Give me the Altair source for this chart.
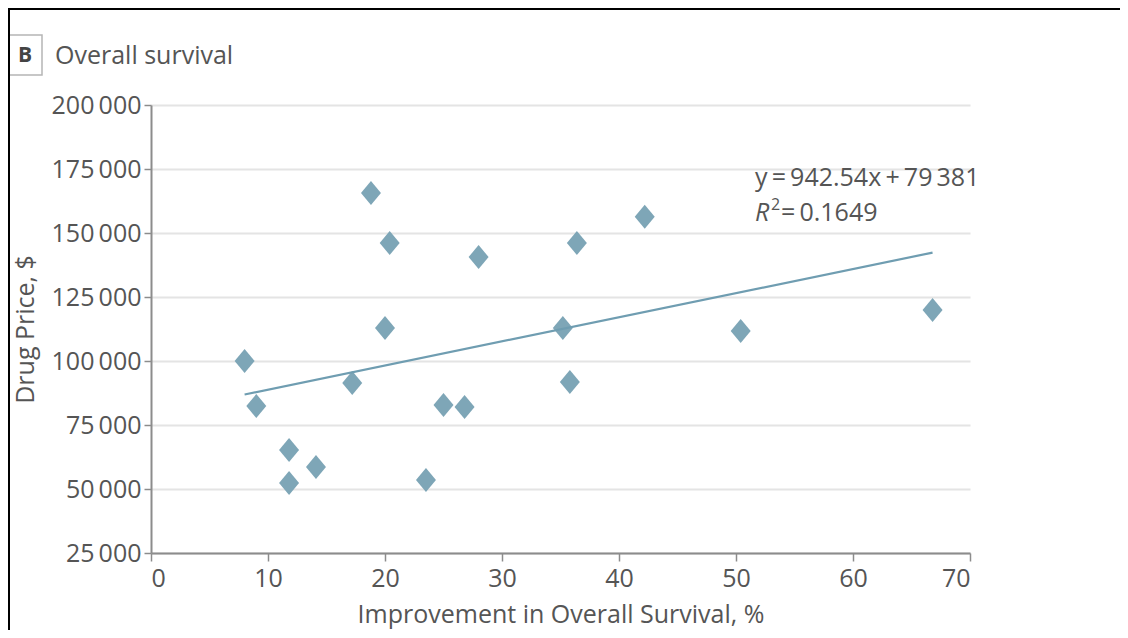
import altair as alt
import pandas as pd

# ---- data ----
IMPROVEMENT_OS = [8.0, 9.0, 11.8, 11.8, 14.1, 17.2, 18.8, 20.4, 20.0, 23.5,
                  25.0, 26.8, 28.0, 35.2, 35.8, 36.4, 42.2, 50.4, 66.8]
DRUG_PRICE = [100000, 82400, 65200, 52300, 58600, 91400, 165600, 146100, 112900, 53500,
              82800, 82000, 140600, 112900, 91800, 146100, 156300, 111700, 119900]
SLOPE = 942.54
INTERCEPT = 79381
EQUATION = "y\u2009=\u2009942.54x\u2009+\u200979\u2009381"
R2_TEXT = "\u2009=\u20090.1649"
PANEL_LETTER = "B"
PANEL_TITLE = "Overall survival"
X_TITLE = "Improvement in Overall Survival, %"
Y_TITLE = "Drug Price, $"
X_TICKS = [0, 10, 20, 30, 40, 50, 60, 70]
Y_TICKS = [25000, 50000, 75000, 100000, 125000, 150000, 175000, 200000]

FONT = "Open Sans"
FS = 25
TXT = "#555555"
MARK = "#7ea6b7"
LINE = "#6f9db1"

pts = pd.DataFrame({"x": IMPROVEMENT_OS, "y": DRUG_PRICE})
fit = pd.DataFrame({"x": [min(IMPROVEMENT_OS), max(IMPROVEMENT_OS)]})
one = pd.DataFrame({"a": [0]})

xscale = alt.Scale(domain=[0, 70], nice=False, zero=False)
yscale = alt.Scale(domain=[25000, 200000], nice=False, zero=False)

diamond = "M0,-1.2L1,0L0,1.2L-1,0Z"

points = alt.Chart(pts).mark_point(
    shape=diamond, filled=True, size=400, color=MARK, opacity=1
).encode(
    x=alt.X("x:Q", scale=xscale, axis=alt.Axis(
        values=X_TICKS, title=X_TITLE, grid=False, domainColor="#8c8c8c",
        domainWidth=2, tickColor="#8c8c8c", tickWidth=1.5, tickSize=8,
        labelFontSize=FS, labelColor=TXT, labelFont=FONT, labelPadding=5,
        titleFontSize=FS, titleColor=TXT, titleFont=FONT, titleFontWeight="normal",
        titlePadding=11)),
    y=alt.Y("y:Q", scale=yscale, axis=alt.Axis(
        values=Y_TICKS, title=Y_TITLE, grid=True, gridColor="#e4e4e4", gridWidth=2,
        domainColor="#8c8c8c", domainWidth=2, tickColor="#8c8c8c", tickWidth=1.5,
        tickSize=7, labelFontSize=FS, labelColor=TXT, labelFont=FONT, labelPadding=3,
        labelExpr="replace(format(datum.value, ','), ',', '\u2009')",
        titleFontSize=FS, titleColor=TXT, titleFont=FONT, titleFontWeight="normal",
        titleX=-113, titleY=224)),
)

line = alt.Chart(fit).transform_calculate(
    yfit=f"{SLOPE} * datum.x + {INTERCEPT}"
).mark_line(color=LINE, strokeWidth=2.2).encode(
    x=alt.X("x:Q", scale=xscale), y=alt.Y("yfit:Q", scale=yscale)
)

def txt(text, x, y, size=FS, style="normal", weight="normal", align="left", color=TXT):
    return alt.Chart(one).mark_text(
        text=text, font=FONT, fontSize=size, fontStyle=style, fontWeight=weight,
        align=align, baseline="middle", color=color
    ).encode(x=alt.value(x), y=alt.value(y))

eq = txt(EQUATION, 604, 73)
r_letter = txt("R", 604, 108, style="italic")
r_sup = txt("2", 620, 100, size=16)
r_rest = txt(R2_TEXT, 630, 108)
title = txt(PANEL_TITLE, -96, -49, size=25)
letter = txt(PANEL_LETTER, -126, -49, size=21, weight="bold", align="center", color="#444444")
box = alt.Chart(one).mark_rect(fill="white", stroke="#b5b5b5", strokeWidth=1.5).encode(
    x=alt.value(-142), x2=alt.value(-109), y=alt.value(-70), y2=alt.value(-30))

frame_v = alt.Chart(one).mark_rule(color="black", strokeWidth=2).encode(
    x=alt.value(-142), y=alt.value(-96), y2=alt.value(540))
frame_h = alt.Chart(one).mark_rule(color="black", strokeWidth=2).encode(
    x=alt.value(-143), x2=alt.value(975), y=alt.value(-96))

chart = alt.layer(
    points, line, eq, r_letter, r_sup, r_rest, box, letter, title, frame_v, frame_h
).properties(
    width=819, height=448,
    autosize=alt.AutoSizeParams(type="none"),
    padding={"left": 143, "top": 97, "right": 150, "bottom": 77},
).configure_view(stroke=None)

chart.save("out.html", embed_options={"renderer": "svg", "actions": False})
